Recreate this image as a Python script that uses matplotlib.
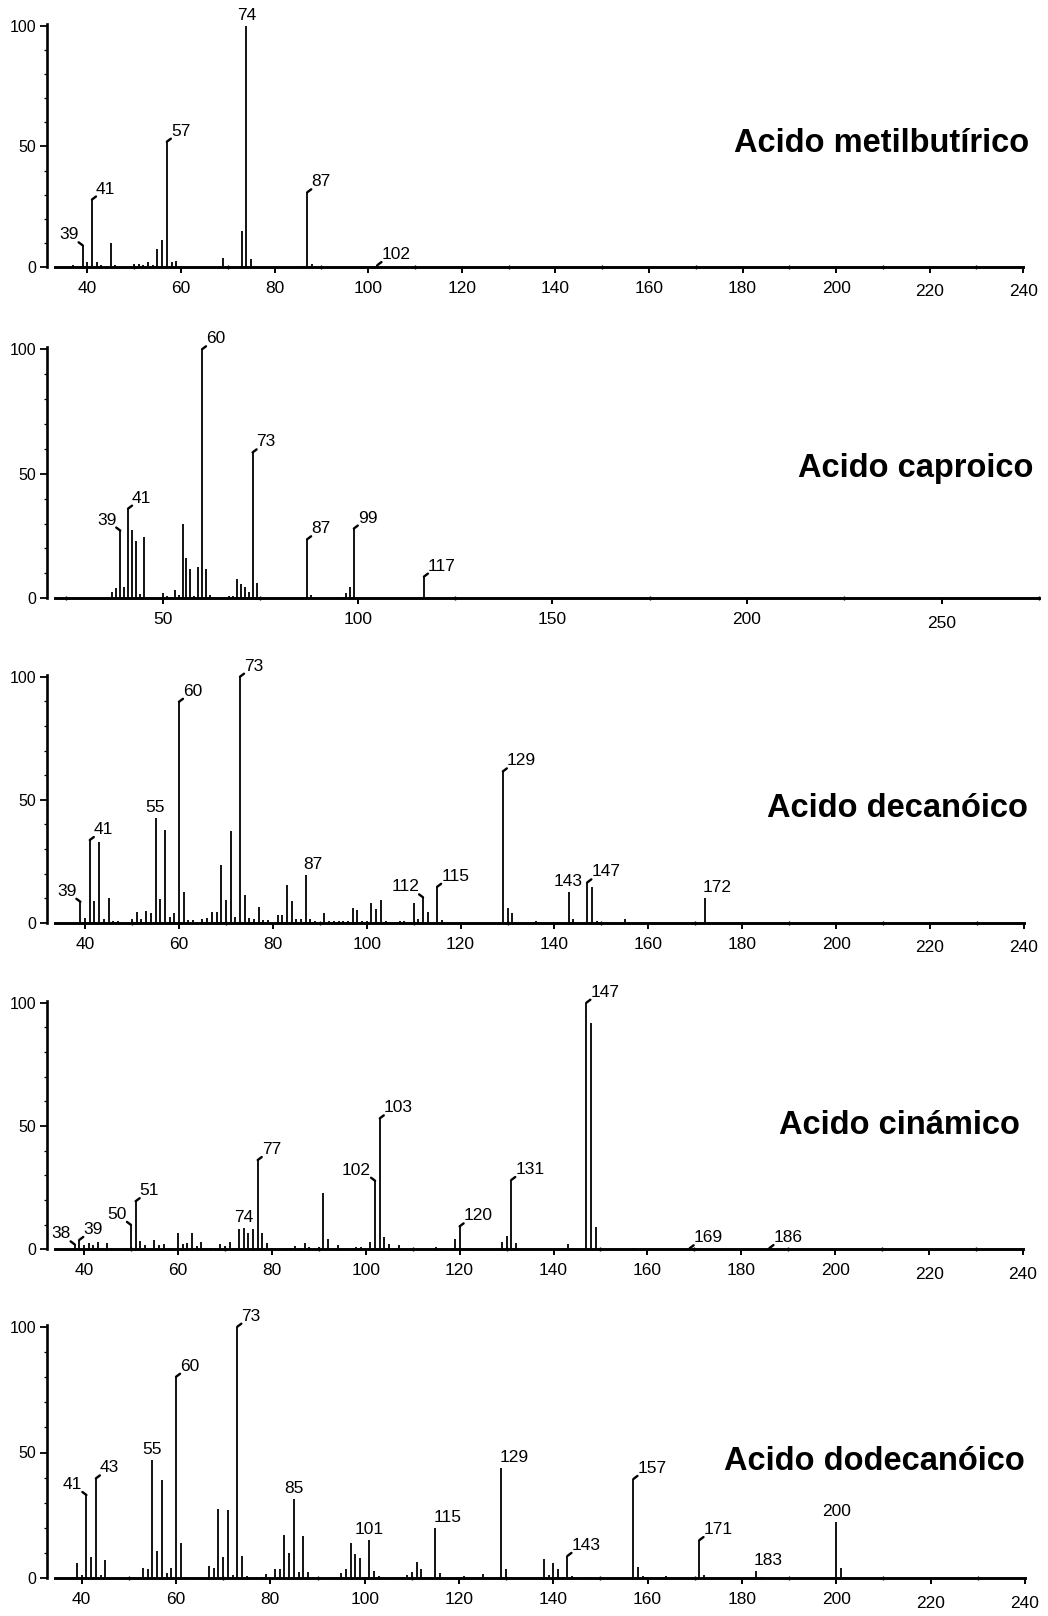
import matplotlib
matplotlib.use("Agg")
import matplotlib.pyplot as plt
from matplotlib.ticker import MultipleLocator
from matplotlib.transforms import ScaledTranslation

plt.rcParams['font.family'] = ['Liberation Sans', 'DejaVu Sans']

# ---------------- spectra: (m/z, relative abundance %) ----------------
peaks_metilbutirico = [
    (37, 1.0), (38, 0.6), (39, 9.0), (40, 2.0), (41, 28.0), (42, 2.0), (43, 1.0),
    (45, 10.0), (46, 0.8), (47, 0.6), (50, 1.2), (51, 1.2), (52, 0.8), (53, 2.0),
    (54, 1.0), (55, 7.6), (56, 11.0), (57, 52.0), (58, 2.0), (59, 2.3), (69, 3.7),
    (73, 15.0), (74, 100.0), (75, 3.5), (85, 0.6), (86, 0.6), (87, 31.0), (88, 1.3),
    (102, 0.8),
]

peaks_caproico = [
    (37, 2.7), (38, 4.0), (39, 27.2), (40, 4.6), (41, 36.0), (42, 27.4), (43, 23.2),
    (44, 1.7), (45, 24.5), (46, 0.4), (50, 2.0), (51, 1.1), (53, 3.3), (54, 1.3),
    (55, 29.9), (56, 16.0), (57, 11.8), (58, 1.0), (59, 12.4), (60, 100.0), (61, 11.6),
    (62, 1.3), (63, 0.4), (67, 1.0), (68, 1.0), (69, 7.9), (70, 5.8), (71, 4.6),
    (72, 2.7), (73, 58.6), (74, 6.2), (75, 0.4), (80, 0.3), (87, 23.7), (88, 1.3),
    (89, 0.3), (96, 0.4), (97, 2.3), (98, 4.7), (99, 28.0), (117, 8.7), (118, 0.5),
]

peaks_decanoico = [
    (39, 8.5), (40, 1.8), (41, 33.6), (42, 8.9), (43, 32.7), (44, 1.4), (45, 9.9),
    (46, 0.5), (47, 0.5), (50, 1.6), (51, 4.2), (52, 1.5), (53, 4.9), (54, 3.8),
    (55, 42.4), (56, 9.5), (57, 37.7), (58, 2.2), (59, 3.8), (60, 89.8), (61, 12.6),
    (62, 1.1), (63, 1.1), (65, 1.4), (66, 1.8), (67, 4.2), (68, 4.2), (69, 23.3),
    (70, 9.2), (71, 37.4), (72, 2.2), (73, 100.0), (74, 11.2), (75, 1.8), (76, 1.4),
    (77, 6.2), (78, 1.1), (79, 1.1), (81, 3.1), (82, 3.1), (83, 15.3), (84, 8.9),
    (85, 1.5), (86, 1.5), (87, 19.4), (88, 1.4), (89, 0.5), (91, 3.8), (92, 0.7),
    (93, 0.7), (94, 0.7), (95, 0.7), (96, 0.7), (97, 5.8), (98, 5.1), (99, 0.8),
    (100, 0.5), (101, 7.9), (102, 5.4), (103, 9.2), (104, 0.7), (107, 0.5), (108, 0.5),
    (110, 7.9), (111, 1.4), (112, 10.3), (113, 4.3), (115, 14.6), (116, 1.0),
    (129, 61.5), (130, 5.8), (131, 4.1), (136, 0.5), (143, 12.3), (144, 1.4),
    (147, 16.4), (148, 14.4), (149, 0.5), (150, 0.4), (151, 0.4), (152, 0.4),
    (155, 1.4), (172, 10.2),
]

peaks_cinamico = [
    (38, 2.0), (39, 3.8), (40, 1.8), (41, 2.4), (42, 1.8), (43, 3.1), (44, 0.5),
    (45, 2.7), (46, 0.5), (49, 0.5), (50, 9.9), (51, 19.5), (52, 3.4), (53, 1.8),
    (54, 0.7), (55, 3.6), (56, 1.8), (57, 2.0), (58, 0.5), (60, 6.8), (61, 2.0),
    (62, 2.7), (63, 6.5), (64, 1.4), (65, 3.1), (66, 0.7), (67, 0.5), (68, 0.5),
    (69, 2.0), (70, 1.4), (71, 3.1), (72, 0.5), (73, 8.1), (74, 8.8), (75, 6.5),
    (76, 8.1), (77, 36.2), (78, 6.8), (79, 2.4), (80, 0.5), (83, 0.7), (84, 0.7),
    (85, 1.4), (86, 0.7), (87, 2.4), (88, 1.0), (90, 1.0), (91, 22.7), (92, 4.3),
    (94, 1.8), (97, 0.7), (98, 1.0), (99, 1.0), (101, 2.8), (102, 27.8), (103, 53.1),
    (104, 5.1), (105, 2.0), (106, 0.7), (107, 1.8), (110, 0.3), (115, 0.8), (119, 4.3),
    (120, 9.3), (121, 0.7), (129, 3.1), (130, 5.5), (131, 28.1), (132, 2.7),
    (143, 2.0), (147, 100.0), (148, 91.6), (149, 9.2), (150, 0.7), (157, 0.5),
    (169, 0.4), (186, 0.5),
]

peaks_dodecanoico = [
    (38, 0.5), (39, 6.2), (40, 1.3), (41, 33.1), (42, 8.3), (43, 39.7), (44, 1.3),
    (45, 7.3), (46, 0.3), (50, 0.4), (51, 0.5), (53, 4.2), (54, 3.6), (55, 47.0),
    (56, 10.9), (57, 39.1), (58, 2.3), (59, 4.0), (60, 80.1), (61, 13.9), (62, 0.5),
    (65, 0.5), (66, 0.3), (67, 4.9), (68, 4.2), (69, 27.4), (70, 8.3), (71, 27.2),
    (72, 1.3), (73, 100.0), (74, 8.9), (75, 0.8), (77, 0.5), (78, 0.5), (79, 1.7),
    (80, 0.5), (81, 3.6), (82, 3.6), (83, 17.2), (84, 9.9), (85, 31.5), (86, 2.6),
    (87, 17.0), (88, 2.4), (89, 0.5), (91, 0.3), (93, 0.4), (94, 0.7), (95, 2.3),
    (96, 3.7), (97, 13.9), (98, 9.5), (99, 7.9), (100, 0.5), (101, 15.2), (102, 3.0),
    (103, 1.0), (107, 0.5), (108, 0.5), (109, 1.3), (110, 2.6), (111, 6.6), (112, 3.7),
    (113, 0.5), (114, 0.5), (115, 19.9), (116, 2.3), (121, 1.0), (123, 0.5), (124, 0.5),
    (125, 1.7), (126, 0.5), (129, 43.8), (130, 3.8), (131, 0.6), (135, 0.3), (136, 0.3),
    (138, 7.5), (139, 1.3), (140, 6.2), (141, 3.7), (142, 0.5), (143, 8.9), (144, 1.0),
    (147, 0.5), (148, 0.5), (153, 0.3), (157, 39.5), (158, 4.4), (159, 0.8), (164, 1.0),
    (171, 15.2), (172, 1.3), (181, 0.3), (182, 0.3), (183, 2.9), (184, 0.5), (185, 0.3),
    (200, 22.5), (201, 4.0), (202, 0.5),
]

# ---------------- annotated ions ----------------
labels_metilbutirico = [39, 41, 57, 74, 87, 102]
labels_caproico = [39, 41, 60, 73, 87, 99, 117]
labels_decanoico = [39, 41, 55, 60, 73, 87, 112, 115, 129, 143, 147, 172]
labels_cinamico = [38, 39, 50, 51, 74, 77, 102, 103, 120, 131, 147, 169, 186]
labels_dodecanoico = [41, 43, 55, 60, 73, 85, 101, 115, 129, 143, 157, 171, 183, 200]

titles = ["Acido metilbutírico", "Acido caproico", "Acido decanóico",
          "Acido cinámico", "Acido dodecanóico"]

ticks_240 = [40, 60, 80, 100, 120, 140, 160, 180, 200, 220, 240]
ticks_caproico = [50, 100, 150, 200, 250]

# ---------------- layout (pixels of the 1048 x 1616 canvas) ----------------
W, H = 1048, 1616
fig = plt.figure(figsize=(W / 100, H / 100), dpi=100)
fig.patch.set_facecolor("white")

LEFT_PX = 47
AXIS_START_PX = 55

# label placement: 'r' text up-right with leader, 'l' up-left with leader,
# 'c' centred above, 'cr' left-aligned just above the line
styles = [
    {39: 'l', 41: 'r', 57: 'r', 74: 'c', 87: 'r', 102: 'r'},
    {39: 'l', 41: 'r', 60: 'r', 73: 'r', 87: 'r', 99: 'r', 117: 'r'},
    {39: 'l', 41: 'r', 55: 'c', 60: 'r', 73: 'r', 87: 'cr', 112: 'l', 115: 'r',
     129: 'r', 143: 'c', 147: 'r', 172: 'cr'},
    {38: 'l', 39: 'r', 50: 'l', 51: 'r', 74: 'c', 77: 'r', 102: 'l', 103: 'r',
     120: 'r', 131: 'r', 147: 'r', 169: 'r', 186: 'r'},
    {41: 'l', 43: 'r', 55: 'c', 60: 'r', 73: 'r', 85: 'c', 101: 'c', 115: 'cr',
     129: 'cr', 143: 'r', 157: 'r', 171: 'r', 183: 'cr', 200: 'c'},
]

# (reference m/z, its x pixel, pixels per m/z unit, x max, y=0 pixel, y=100 pixel)
geometry = [
    (40, 87.3, 4.68, 240, 267.0, 26.0),
    (60, 202.0, 3.893, 275, 598.3, 349.3),
    (73, 240.0, 4.694, 240, 922.7, 676.7),
    (40, 84.0, 4.695, 240, 1249.3, 1002.7),
    (40, 81.7, 4.716, 240, 1578.3, 1326.7),
]

# title anchor: right edge x, vertical centre y
title_pos = [(1029, 144), (1033, 469), (1028, 809), (1020, 1126), (1025, 1461)]

panels = [
    (peaks_metilbutirico, labels_metilbutirico, ticks_240, 10, ('220', '240')),
    (peaks_caproico, labels_caproico, ticks_caproico, 25, ('250',)),
    (peaks_decanoico, labels_decanoico, ticks_240, 10, ('220', '240')),
    (peaks_cinamico, labels_cinamico, ticks_240, 10, ('220', '240')),
    (peaks_dodecanoico, labels_dodecanoico, ticks_240, 10, ('220', '240')),
]

YTOP = 100.8
PT = 72 / 100  # points per pixel


def draw_label(ax, m, h, style):
    txt = str(m)
    common = dict(xy=(m, h), textcoords='offset points', fontsize=12.5,
                  va='baseline', color='black', annotation_clip=False)
    tick = dict(arrowstyle='-', lw=1.7, color='black', shrinkA=0, shrinkB=0)
    if style == 'r':
        ax.annotate('', xy=(m, h), xytext=(4 * PT, 3 * PT),
                    textcoords='offset points', arrowprops=tick,
                    annotation_clip=False)
        ax.annotate(txt, xytext=(4 * PT, 6 * PT), ha='left', **common)
    elif style == 'l':
        ax.annotate('', xy=(m, h), xytext=(-4 * PT, 3 * PT),
                    textcoords='offset points', arrowprops=tick,
                    annotation_clip=False)
        ax.annotate(txt, xytext=(-4 * PT, 6 * PT), ha='right', **common)
    elif style == 'c':
        ax.annotate(txt, xytext=(0, 6 * PT), ha='center', **common)
    else:
        ax.annotate(txt, xytext=(-2 * PT, 6 * PT), ha='left', **common)


for i, (peaks, labs, ticks, minor_step, low) in enumerate(panels):
    ref_m, ref_px, ppu, xmax, y0_px, y100_px = geometry[i]
    xmin = ref_m - (ref_px - LEFT_PX) / ppu
    right_px = ref_px + (xmax - ref_m) * ppu
    ppy = (y0_px - y100_px) / 100.0
    top_px = y0_px - YTOP * ppy
    ax = fig.add_axes([LEFT_PX / W, 1 - y0_px / H,
                       (right_px - LEFT_PX) / W, (y0_px - top_px) / H])
    ax.set_xlim(xmin, xmax)
    ax.set_ylim(0, YTOP)
    ax.set_facecolor('none')

    mz = [p[0] for p in peaks]
    ab = [p[1] for p in peaks]
    ax.vlines(mz, 0, ab, colors='black', linewidth=1.3)

    for spine in ('top', 'right'):
        ax.spines[spine].set_visible(False)
    ax.spines['left'].set_linewidth(1.9)
    ax.spines['left'].set_bounds(0, YTOP)
    ax.spines['bottom'].set_linewidth(2.1)
    ax.spines['bottom'].set_bounds(xmin + (AXIS_START_PX - LEFT_PX) / ppu, xmax)
    ax.spines['left'].set_zorder(3)

    ax.set_xticks(ticks, [str(t) for t in ticks])
    ax.xaxis.set_minor_locator(MultipleLocator(minor_step))
    ax.tick_params(axis='x', which='major', direction='out', length=4.5, width=1.4,
                   labelsize=12.5, pad=5.5)
    ax.tick_params(axis='x', which='minor', direction='inout', length=3.5, width=1.0)
    ax.set_yticks([0, 50, 100], ['0', '50', '100'])
    ax.yaxis.set_minor_locator(MultipleLocator(10))
    ax.tick_params(axis='y', which='major', direction='out', length=5, width=1.3,
                   labelsize=11.5, pad=2.5)
    ax.tick_params(axis='y', which='minor', direction='out', length=2.5, width=0.9)

    for lbl in ax.get_xticklabels():
        if lbl.get_text() in low:
            lbl.set_transform(lbl.get_transform() +
                              ScaledTranslation(0, -3.5 / 100, fig.dpi_scale_trans))

    lookup = dict(peaks)
    for m in labs:
        draw_label(ax, m, lookup[m], styles[i].get(m, 'r'))

    tx, ty = title_pos[i]
    fig.text(tx / W, 1 - ty / H, titles[i], ha='right', va='center',
             fontsize=23.5, fontweight='bold', color='black')

fig.savefig('out.png', dpi=100, facecolor='white')
